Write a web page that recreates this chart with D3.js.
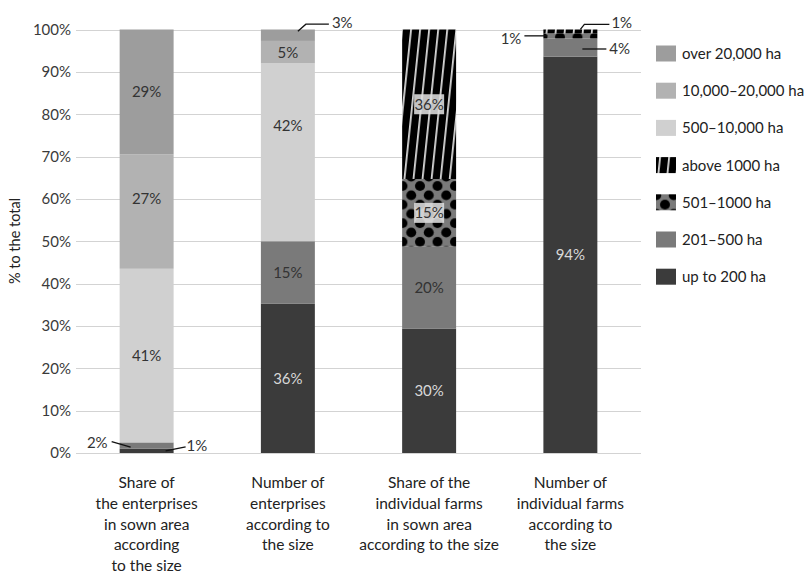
<!DOCTYPE html>
<html><head><meta charset="utf-8">
<script src="https://cdn.jsdelivr.net/npm/d3@7"></script>
<style>body{margin:0;background:#fff;} svg{display:block;font-family:Lato,"Noto Sans",sans-serif;}</style>
</head><body><svg id="c" width="809" height="573"></svg>
<script>
// ---- data ----
const categories = [
  ["Share of","the enterprises","in sown area","according","to the size"],
  ["Number of","enterprises","according to","the size"],
  ["Share of the","individual farms","in sown area","according to the size"],
  ["Number of","individual farms","according to","the size"]
];
const keys = ["up to 200 ha","201–500 ha","500–10,000 ha","501–1000 ha","10,000–20,000 ha","above 1000 ha","over 20,000 ha"];
const seriesUpTo200     = [1.0, 35.3, 29.4, 93.6];
const series201to500    = [1.5, 14.7, 19.3, 4.3];
const series500to10000  = [41, 42, 0, 0];
const series501to1000   = [0, 0, 16, 1.2];
const series10000to20000= [27, 5.3, 0, 0];
const seriesAbove1000   = [0, 0, 35.3, 0.9];
const seriesOver20000   = [29.5, 2.7, 0, 0];
const labelsUpTo200     = ["1%","36%","30%","94%"];
const labels201to500    = ["2%","15%","20%","4%"];
const labels500to10000  = ["41%","42%","",""];
const labels501to1000   = ["","","15%","1%"];
const labels10000to20000= ["27%","5%","",""];
const labelsAbove1000   = ["","","36%","1%"];
const labelsOver20000   = ["29%","3%","",""];
const yTicks = [0,10,20,30,40,50,60,70,80,90,100];
const legendOrder = ["over 20,000 ha","10,000–20,000 ha","500–10,000 ha","above 1000 ha","501–1000 ha","201–500 ha","up to 200 ha"];

const seriesList = [seriesUpTo200, series201to500, series500to10000, series501to1000, series10000to20000, seriesAbove1000, seriesOver20000];
const labelList = [labelsUpTo200, labels201to500, labels500to10000, labels501to1000, labels10000to20000, labelsAbove1000, labelsOver20000];

const table = categories.map((c,i)=>{const o={idx:i}; keys.forEach((k,j)=>o[k]=seriesList[j][i]); return o;});

// ---- chart ----
const svg = d3.select("#c");
const defs = svg.append("defs");
const stripe = defs.append("pattern").attr("id","stripes").attr("patternUnits","userSpaceOnUse")
  .attr("width",9).attr("height",9).attr("patternTransform","rotate(6)");
stripe.append("rect").attr("width",9).attr("height",9).attr("fill","#000");
stripe.append("rect").attr("x",6).attr("width",1.8).attr("height",9).attr("fill","#d8d8d8");
const dots = defs.append("pattern").attr("id","dots").attr("patternUnits","userSpaceOnUse")
  .attr("width",17.5).attr("height",18.6).attr("x",0).attr("y",0);
dots.append("rect").attr("width",17.5).attr("height",18.6).attr("fill","#7a7a7a");
[[0,0],[17.5,0],[0,18.6],[17.5,18.6],[8.75,9.3]].forEach(p=>dots.append("circle").attr("cx",p[0]).attr("cy",p[1]).attr("r",5).attr("fill","#000"));

const fills = {
  "up to 200 ha":"#3b3b3b","201–500 ha":"#7a7a7a","500–10,000 ha":"#d0d0d0",
  "501–1000 ha":"url(#dots)","10,000–20,000 ha":"#b2b2b2","above 1000 ha":"url(#stripes)","over 20,000 ha":"#9d9d9d"
};
const x = d3.scaleBand().domain(d3.range(categories.length)).range([76,641]).paddingInner(0.618).paddingOuter(0.309);
const y = d3.scaleLinear().domain([0,100]).range([453,29.5]);

// gridlines
svg.append("g").selectAll("line").data(yTicks).join("line")
  .attr("x1",76).attr("x2",641).attr("y1",d=>Math.round(y(d))+0.5).attr("y2",d=>Math.round(y(d))+0.5)
  .attr("stroke","#d3d3d3").attr("stroke-width",1);
// y axis labels
const yAxis = d3.axisLeft(y).tickValues(yTicks).tickFormat(d=>d+"%").tickSize(0).tickPadding(5);
const ya = svg.append("g").attr("transform","translate(76,0)").call(yAxis);
ya.select(".domain").remove();
ya.selectAll("text").attr("font-size",15).attr("fill","#3a3a3a").attr("font-family","Lato");
svg.append("text").attr("transform","translate(20,241) rotate(-90)").attr("text-anchor","middle")
  .attr("font-size",14.5).attr("fill","#222").text("% to the total");

// bars
const stack = d3.stack().keys(keys)(table);
const layer = svg.append("g").selectAll("g").data(stack).join("g").attr("fill",d=>fills[d.key]);
layer.selectAll("rect").data(d=>d).join("rect")
  .attr("x",(d,i)=>x(i)).attr("width",x.bandwidth())
  .attr("y",d=>y(d[1])).attr("height",d=>y(d[0])-y(d[1]));

// inside labels
const outside = new Set(["0-0","0-1","1-6","3-1","3-3","3-5"]);
const shift = {"0-4":-13,"1-2":-27};
const lg = svg.append("g").attr("font-size",15);
stack.forEach((s,j)=>{
  s.forEach((d,i)=>{
    const t = labelList[j][i];
    if(!t || outside.has(i+"-"+j)) return;
    const cx = x(i)+x.bandwidth()/2;
    const cy = (y(d[0])+y(d[1]))/2 + (shift[i+"-"+j]||0);
    const patterned = s.key==="501–1000 ha"||s.key==="above 1000 ha";
    if(patterned){
      lg.append("rect").attr("x",cx-15).attr("y",cy-10).attr("width",30).attr("height",20).attr("fill","rgba(222,222,222,0.88)");
    }
    lg.append("text").attr("x",cx).attr("y",cy).attr("dy","0.36em").attr("text-anchor","middle")
      .attr("fill", s.key==="up to 200 ha" ? "#d8d8d8" : "#333").text(t);
  });
});

// callouts
function seg(i,j){const d=stack[j][i];return {x0:x(i),x1:x(i)+x.bandwidth(),cx:x(i)+x.bandwidth()/2,mid:(y(d[0])+y(d[1]))/2};}
const cg = svg.append("g").attr("font-size",15).attr("fill","#333");
function callout(pts, tx, ty, anchor, text){
  cg.append("path").attr("d",d3.line()(pts)).attr("fill","none").attr("stroke","#111").attr("stroke-width",1.3);
  cg.append("text").attr("x",tx).attr("y",ty).attr("dy","0.36em").attr("text-anchor",anchor).text(text);
}
let s;
s=seg(0,1); callout([[s.x0-8,s.mid-4],[s.x0+11,s.mid+1.5]], s.x0-12, s.mid-3, "end", labels201to500[0]);
s=seg(0,0); callout([[s.x1-8,s.mid],[s.x1+12,s.mid-4]], s.x1+13, s.mid-5, "start", labelsUpTo200[0]);
s=seg(1,6); callout([[s.cx+10,s.mid-4],[s.cx+18,s.mid-11],[s.cx+41,s.mid-11]], s.cx+44, s.mid-13, "start", labelsOver20000[1]);
s=seg(3,5); callout([[s.cx+10,s.mid-2],[s.cx+14,s.mid-7],[s.cx+39,s.mid-7]], s.cx+41, s.mid-9, "start", labelsAbove1000[3]);
s=seg(3,3); callout([[s.x0-19,s.mid],[s.x0+4,s.mid]], s.x0-22, s.mid+3, "end", labels501to1000[3]);
s=seg(3,1); callout([[s.x1-15,s.mid+1.5],[s.x1+9,s.mid+1.5]], s.x1+12, s.mid+1.5, "start", labels201to500[3]);

// category labels
const catG = svg.append("g").attr("font-size",15.5).attr("fill","#222").attr("text-anchor","middle");
categories.forEach((lines,i)=>{
  const t = catG.append("text").attr("x",x(i)+x.bandwidth()/2).attr("y",488);
  lines.forEach((ln,k)=>t.append("tspan").attr("x",x(i)+x.bandwidth()/2).attr("y",488+k*20.8).text(ln));
});

// legend
const leg = svg.append("g");
legendOrder.forEach((k,i)=>{
  const cy = 53.5 + i*37.2;
  leg.append("rect").attr("x",656).attr("y",cy-8).attr("width",20).attr("height",16).attr("fill",fills[k]);
  leg.append("text").attr("x",682).attr("y",cy).attr("dy","0.36em").attr("font-size",15).attr("fill","#222").text(k);
});
</script></body></html>
